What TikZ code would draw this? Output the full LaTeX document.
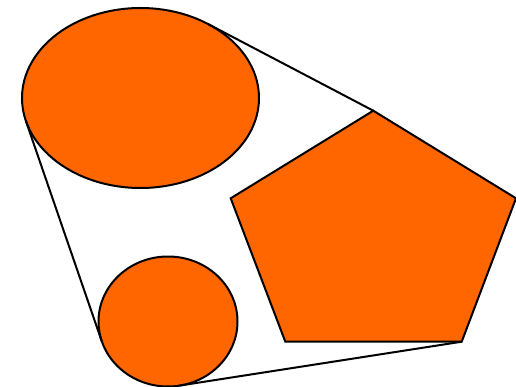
\documentclass[tikz,border=0pt]{standalone}
\usetikzlibrary{shapes.geometric}
\definecolor{fillorange}{HTML}{FF6600}
\begin{document}
\begin{tikzpicture}[x=1pt,y=-1pt,
  shapefill/.style={fill=fillorange,draw=black,line width=2pt},
  hull/.style={draw=black,line width=2pt}]
\useasboundingbox (0,0) rectangle (516,387);
\node[shapefill,ellipse,inner sep=0pt,minimum width=237pt,minimum height=180pt] (E) at (140.5,98) {};
\node[shapefill,ellipse,inner sep=0pt,minimum width=139pt,minimum height=130pt] (C) at (168,321.5) {};
\coordinate (p1) at (373.3,110.7);
\coordinate (p2) at (516,198.3);
\coordinate (p3) at (461.7,341.7);
\coordinate (p4) at (285.3,341.7);
\coordinate (p5) at (230.7,198.3);
\draw[shapefill,line join=miter] (p1) -- (p2) -- (p3) -- (p4) -- (p5) -- cycle;
\coordinate (tE1) at (207.8,23.9);
\coordinate (tE2) at (25.7,120.4);
\coordinate (tC1) at (101.8,341.4);
\coordinate (tC2) at (179.4,385.6);
\draw[hull] (tE1) -- (p1);
\draw[hull] (tE2) -- (tC1);
\draw[hull] (tC2) -- (p3);
\end{tikzpicture}
\end{document}
